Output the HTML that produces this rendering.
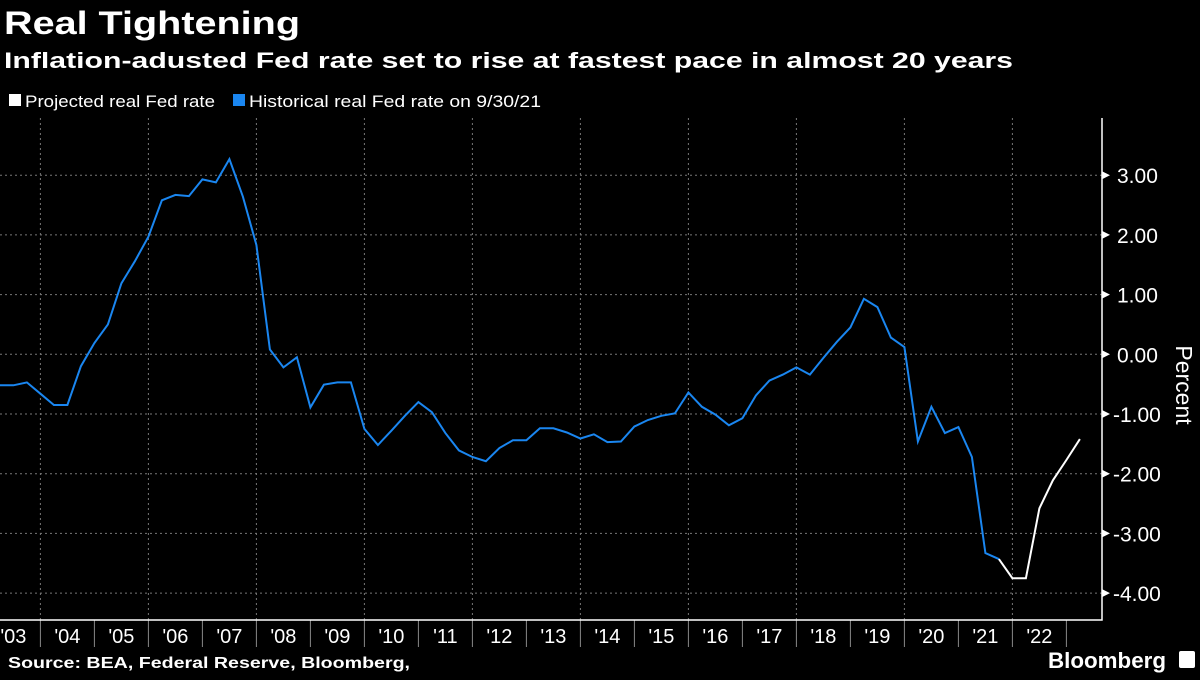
<!DOCTYPE html>
<html><head><meta charset="utf-8"><style>
body{margin:0;background:#000;width:1200px;height:675px;overflow:hidden;font-family:"Liberation Sans",sans-serif;color:#fff}
</style></head><body>
<svg width="1200" height="675" viewBox="0 0 1200 675" xmlns="http://www.w3.org/2000/svg" font-family="Liberation Sans, sans-serif">
<text x="4" y="34" font-size="32" font-weight="bold" fill="#fff" textLength="296" lengthAdjust="spacingAndGlyphs">Real Tightening</text>
<text x="4" y="68" font-size="22" font-weight="bold" fill="#fff" textLength="1009" lengthAdjust="spacingAndGlyphs">Inflation-adusted Fed rate set to rise at fastest pace in almost 20 years</text>
<g>
<rect x="9" y="94" width="12" height="12" fill="#fff"/>
<text x="25" y="107" font-size="17" fill="#fff" textLength="190" lengthAdjust="spacingAndGlyphs">Projected real Fed rate</text>
<rect x="233" y="94" width="12" height="12" fill="#1a86f0"/>
<text x="249" y="107" font-size="17" fill="#fff" textLength="292" lengthAdjust="spacingAndGlyphs">Historical real Fed rate on 9/30/21</text>
</g>
<g id="grid"></g>
<g id="axes"></g>
<g id="series"></g>
<text transform="translate(1176,385) rotate(90)" text-anchor="middle" font-size="23" fill="#fff">Percent</text>
<text x="8" y="668" font-size="16" font-weight="bold" fill="#fff" textLength="402" lengthAdjust="spacingAndGlyphs">Source: BEA, Federal Reserve, Bloomberg,</text>
<text x="1048" y="668" font-size="22" font-weight="bold" fill="#fff" textLength="118" lengthAdjust="spacingAndGlyphs">Bloomberg</text>
<rect x="1179" y="651" width="16" height="17" rx="2" fill="#fff"/>
</svg>
<script>
const historical = [-0.52,-0.52,-0.47,-0.66,-0.85,-0.85,-0.20,0.19,0.50,1.19,1.56,1.97,2.58,2.67,2.65,2.93,2.88,3.27,2.64,1.83,0.08,-0.22,-0.05,-0.89,-0.51,-0.47,-0.47,-1.25,-1.52,-1.28,-1.03,-0.80,-0.97,-1.32,-1.61,-1.72,-1.79,-1.57,-1.44,-1.44,-1.24,-1.24,-1.31,-1.41,-1.34,-1.47,-1.46,-1.21,-1.10,-1.03,-0.99,-0.64,-0.88,-1.01,-1.19,-1.07,-0.69,-0.44,-0.34,-0.22,-0.34,-0.06,0.21,0.45,0.93,0.79,0.28,0.12,-1.46,-0.88,-1.32,-1.22,-1.72,-3.33,-3.43];
const projected = [-3.43,-3.75,-3.75,-2.58,-2.11,-1.77,-1.42];
const yTicks = [3,2,1,0,-1,-2,-3,-4];
const yearLabels = ["'03","'04","'05","'06","'07","'08","'09","'10","'11","'12","'13","'14","'15","'16","'17","'18","'19","'20","'21","'22"];
const startTime = 2003.25;
const projStart = 2003.25 + 74*0.25;

const NS="http://www.w3.org/2000/svg";
const X0=40.4, PX_YEAR=54, Y0=354.3, PX_UNIT=59.7;
const AX_R=1102, AX_B=620, AX_T=118;
const xs=t=>X0+(t-2004)*PX_YEAR;
const ys=v=>Y0-v*PX_UNIT;
function mk(tag,attrs,parent){const e=document.createElementNS(NS,tag);for(const k in attrs)e.setAttribute(k,attrs[k]);parent.appendChild(e);return e;}
const grid=document.getElementById('grid'), axes=document.getElementById('axes'), series=document.getElementById('series');
yTicks.forEach(v=>{
  const l=mk('line',{x1:0,x2:AX_R,y1:ys(v),y2:ys(v),stroke:'#777','stroke-width':1,'stroke-dasharray':'2,3'},grid);
  
  
  const tk=mk('path',{d:`M${AX_R} ${ys(v)-4} L${AX_R+8} ${ys(v)} L${AX_R} ${ys(v)+4}Z`,fill:'#fff'},axes);
  
  
  const neg=v<0;
  const t=mk('text',{x:neg?AX_R+11:AX_R+15,y:ys(v)+8,'font-size':21,fill:'#fff'},axes);
  t.textContent=(neg?'-':'')+Math.abs(v).toFixed(2);
  
  
});
for(let y=2004;y<=2022;y+=2){
  const l=mk('line',{x1:xs(y),x2:xs(y),y1:AX_T,y2:AX_B,stroke:'#777','stroke-width':1,'stroke-dasharray':'2,3'},grid);
  
  
}
yearLabels.forEach((lab,i)=>{
  const yr=2003+i;
  const t=mk('text',{x:xs(yr+0.5),y:643,'font-size':20,fill:'#fff','text-anchor':'middle'},axes);
  t.textContent=lab;
  
  
  const s=mk('line',{x1:xs(yr+1),x2:xs(yr+1),y1:AX_B,y2:647,stroke:'#888','stroke-width':1},axes);
  
  
});
const ax=mk('path',{d:`M0 ${AX_B} L${AX_R} ${AX_B} L${AX_R} ${AX_T}`,fill:'none',stroke:'#fff','stroke-width':1.5},axes);


const hp=historical.map((v,i)=>`${xs(startTime+i*0.25).toFixed(1)},${ys(v).toFixed(1)}`).join(' ');
const h=mk('polyline',{points:hp,fill:'none',stroke:'#1a86f0','stroke-width':2,'stroke-linejoin':'miter'},series);


const pp=projected.map((v,i)=>`${xs(projStart+i*0.25).toFixed(1)},${ys(v).toFixed(1)}`).join(' ');
const p=mk('polyline',{points:pp,fill:'none',stroke:'#fff','stroke-width':2},series);


</script>
</body></html>
